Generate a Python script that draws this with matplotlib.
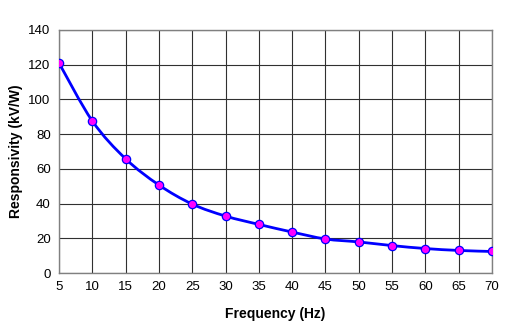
import matplotlib
matplotlib.use("Agg")
import matplotlib.pyplot as plt
import numpy as np
from matplotlib.path import Path
from matplotlib.patches import PathPatch

freq_hz = [5, 10, 15, 20, 25, 30, 35, 40, 45, 50, 55, 60, 65, 70]
responsivity = [121, 87.6, 65.8, 50.7, 39.7, 32.8, 28.0, 23.6, 19.6, 17.9, 15.8, 14.1, 13.0, 12.4]
x_ticks = list(range(5, 75, 5))
y_ticks = list(range(0, 160, 20))

plt.rcParams["font.family"] = ["Liberation Sans", "DejaVu Sans"]


def smooth_path(xs, ys, tension=0.5):
    # Catmull-Rom segments as cubic Bezier curves
    xs = np.asarray(xs, float)
    ys = np.asarray(ys, float)
    n = len(xs)
    verts = [(xs[0], ys[0])]
    codes = [Path.MOVETO]
    for i in range(n - 1):
        x0, y0 = (xs[i - 1], ys[i - 1]) if i > 0 else (xs[i], ys[i])
        x3, y3 = (xs[i + 2], ys[i + 2]) if i + 2 < n else (xs[i + 1], ys[i + 1])
        x1, y1 = xs[i], ys[i]
        x2, y2 = xs[i + 1], ys[i + 1]
        c1 = (x1 + (x2 - x0) * tension / 3, y1 + (y2 - y0) * tension / 3)
        c2 = (x2 - (x3 - x1) * tension / 3, y2 - (y3 - y1) * tension / 3)
        verts += [c1, c2, (x2, y2)]
        codes += [Path.CURVE4] * 3
    return Path(verts, codes)


fig = plt.figure(figsize=(5.06, 3.34), dpi=100)
ax = fig.add_axes([0.1166, 0.1826, 0.8557, 0.7276])

ax.add_patch(PathPatch(smooth_path(freq_hz, responsivity, tension=0.5),
                       facecolor="none", edgecolor="#0000ff", lw=2.0, zorder=3))
ax.plot(freq_hz, responsivity, linestyle="none", marker="o", markersize=6,
        markerfacecolor="#ff00ff", markeredgecolor="#0000ff",
        markeredgewidth=0.9, zorder=4)

ax.set_xlim(5, 70)
ax.set_ylim(0, 140)
ax.set_xticks(x_ticks)
ax.set_yticks(y_ticks)
ax.grid(True, color="#303030", lw=0.8)
ax.set_axisbelow(True)
for s in ax.spines.values():
    s.set_color("#808080")
    s.set_linewidth(1.0)
ax.tick_params(length=0, labelsize=9.5, pad=6, colors="#000000")
ax.set_xlabel("Frequency (Hz)", fontsize=10, fontweight="bold", labelpad=10)
ax.set_ylabel("Responsivity (kV/W)", fontsize=10, fontweight="bold", labelpad=4)

fig.savefig("out.png", dpi=100)
